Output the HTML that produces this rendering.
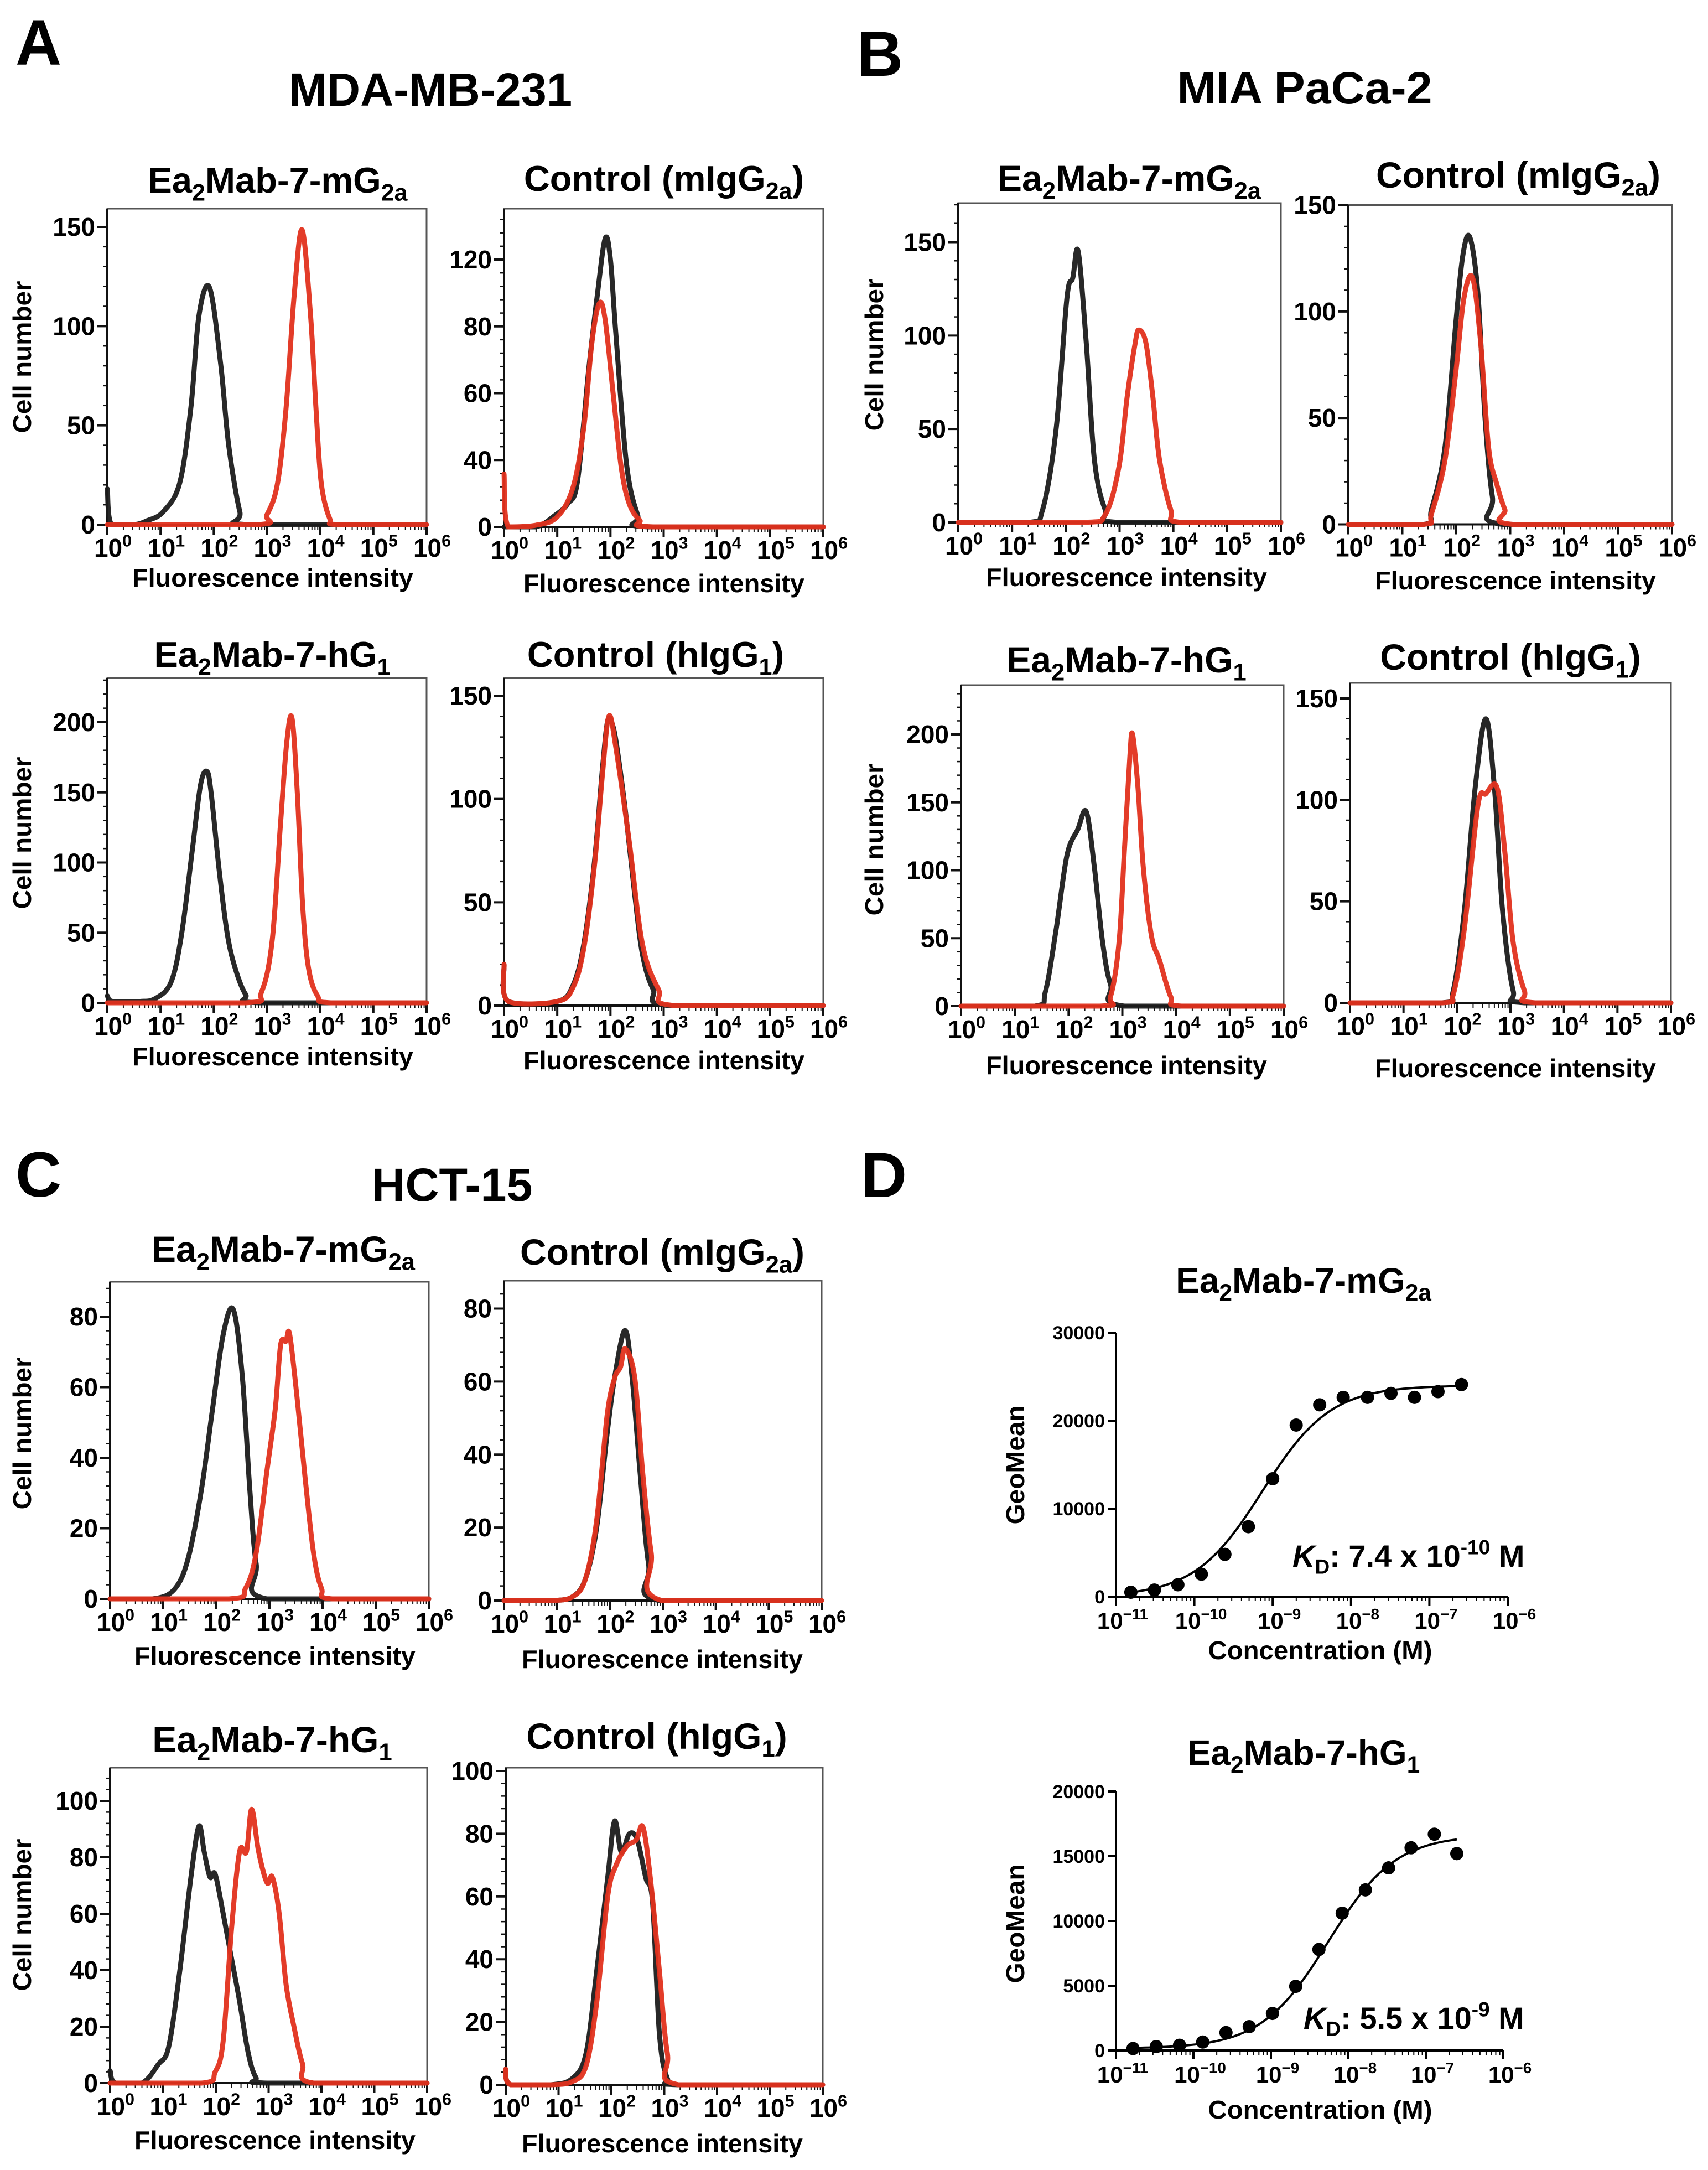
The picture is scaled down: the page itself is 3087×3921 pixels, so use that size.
<!DOCTYPE html>
<html><head><meta charset="utf-8">
<style>
html,body{margin:0;padding:0;background:#fff;}
svg{display:block;font-family:"Liberation Sans",Arial,sans-serif;}
</style></head>
<body>
<svg id="fig" xmlns="http://www.w3.org/2000/svg" width="3087" height="3921" viewBox="0 0 3087 3921">
<rect x="0" y="0" width="3087" height="3921" fill="#fff"/>
<text x="28" y="117" font-size="115" font-weight="bold">A</text>
<text x="1549" y="137" font-size="115" font-weight="bold">B</text>
<text x="28" y="2162" font-size="115" font-weight="bold">C</text>
<text x="1556" y="2163" font-size="115" font-weight="bold">D</text>
<text x="778" y="191" font-size="84" font-weight="bold" text-anchor="middle" textLength="512" lengthAdjust="spacingAndGlyphs">MDA-MB-231</text>
<text x="2358" y="187" font-size="82" font-weight="bold" text-anchor="middle" textLength="461" lengthAdjust="spacingAndGlyphs">MIA PaCa-2</text>
<text x="817" y="2170" font-size="84" font-weight="bold" text-anchor="middle" textLength="291" lengthAdjust="spacingAndGlyphs">HCT-15</text>
</svg>
<script>
// ---------- histogram data (log10 fluorescence, cell count) ----------
const a1BlackLog=[0,0.08,0.5,0.75,1.05,1.36,1.57,1.72,1.92,2.13,2.28,2.49,2.64,6];
const a1BlackCnt=[18,0,0,2,6.5,21,59,105,119.5,81,40,6.5,0,0];
const a1RedLog=[0,2.8,3.0,3.2,3.36,3.51,3.66,3.82,3.92,4.02,4.18,4.35,6];
const a1RedCnt=[0,0,5,21,59,115,148.5,105,59,21,3,0,0];
const a2BlackLog=[0,0.6,0.97,1.2,1.38,1.59,1.75,1.9,2.0,2.1,2.3,2.51,2.7,6];
const a2BlackCnt=[0,0,3.6,7,13.6,46.9,69,86.3,80,58,19,3.6,0,0];
const a2RedLog=[0,0.08,0.6,1.0,1.3,1.5,1.65,1.79,1.9,2.05,2.2,2.35,2.55,2.8,6];
const a2RedCnt=[15.8,0,0.5,3,12,30,55,66.9,62,40,18,7,2,0,0];
const a3BlackLog=[0,0.1,0.6,0.9,1.2,1.4,1.6,1.75,1.87,1.95,2.1,2.25,2.4,2.6,2.85,6];
const a3BlackCnt=[5,1,1,3,15,50,110,155,165,150,95,50,25,6,0,0];
const a3RedLog=[0,2.6,2.9,3.1,3.25,3.37,3.47,3.57,3.67,3.78,3.95,4.2,6];
const a3RedCnt=[0,0,8,45,125,185,203,150,70,25,5,0,0];
const a4BlackLog=[0,0.08,1.0,1.3,1.5,1.7,1.85,1.95,2.05,2.15,2.3,2.45,2.6,2.8,3.1,6];
const a4BlackCnt=[20,2,2,10,30,70,115,138,135,120,90,55,25,8,0,0];
const a4RedLog=[0,0.08,1.0,1.3,1.5,1.7,1.85,1.97,2.1,2.35,2.6,2.9,3.2,6];
const a4RedCnt=[20,2,2,9,28,68,112,140,125,80,30,8,0,0];
const b1BlackLog=[0,1.32,1.57,1.82,2.02,2.13,2.23,2.38,2.53,2.73,2.99,6];
const b1BlackCnt=[0,0,7,50,120,131,145,96,34,7,0,0];
const b1RedLog=[0,2.33,2.73,2.99,3.14,3.29,3.36,3.49,3.62,3.74,3.95,4.15,6];
const b1RedCnt=[0,0,4,30,67,96,103,96,67,34,7,0,0];
const b2BlackLog=[0,1.4,1.54,1.79,1.99,2.12,2.25,2.4,2.53,2.67,2.85,6];
const b2BlackCnt=[0,0,7,36,94,126,135,109,51,13,0,0];
const b2RedLog=[0,1.4,1.54,1.79,1.99,2.14,2.3,2.45,2.6,2.75,2.9,3.05,6];
const b2RedCnt=[0,0,5,30,71,106,116,86,36,19,7,0,0];
const b3BlackLog=[0,1.37,1.57,1.77,1.97,2.17,2.33,2.48,2.63,2.78,3.04,6];
const b3BlackCnt=[0,0,11,57,111,130,143,102,48,16,0,0];
const b3RedLog=[0,2.58,2.78,2.94,3.04,3.14,3.19,3.29,3.39,3.54,3.69,3.9,4.1,6];
const b3RedCnt=[0,0,7,48,116,184,200,161,102,52,34,7,0,0];
const b4BlackLog=[0,1.73,1.93,2.14,2.34,2.54,2.7,2.85,3.05,3.26,6];
const b4BlackCnt=[0,0,6,46,106,140,106,46,6,0,0];
const b4RedLog=[0,1.73,1.93,2.14,2.39,2.54,2.75,2.9,3.05,3.26,3.46,6];
const b4RedCnt=[0,0,4,37,97,103,106,73,30,6,0,0];
const c1BlackLog=[0,0.8,1.21,1.47,1.72,1.93,2.13,2.32,2.49,2.63,2.75,2.95,6];
const c1BlackCnt=[0,0,2.7,11.5,31,54,75,82,63,31,10,0,0];
const c1RedLog=[0,2.24,2.55,2.75,2.95,3.11,3.21,3.31,3.38,3.52,3.67,3.83,3.98,4.18,6];
const c1RedCnt=[0,0,3,13,36,54,72,73,75,57,34.5,13,3,0,0];
const c2BlackLog=[0,0.87,1.29,1.54,1.75,1.95,2.11,2.29,2.42,2.57,2.73,2.93,6];
const c2BlackCnt=[0,0,1,6,20,46,63,74,61,35,10,0,0];
const c2RedLog=[0,0.87,1.29,1.54,1.75,1.95,2.09,2.2,2.29,2.47,2.62,2.78,2.98,6];
const c2RedCnt=[0,0,1,6,22,51,61,64,69,61,35,13,0,0];
const c3BlackLog=[0,0.1,0.6,0.91,1.11,1.32,1.53,1.68,1.78,1.89,1.99,2.14,2.3,2.45,2.61,2.76,2.97,6];
const c3BlackCnt=[4.4,0,0,6.6,13,40,73,91,82,73,74,60,44,29,11,2,0,0];
const c3RedLog=[0,1.73,1.99,2.14,2.3,2.45,2.58,2.68,2.81,2.97,3.07,3.2,3.33,3.48,3.64,3.85,6];
const c3RedCnt=[0,0,4,15,55,82,82,97,82,71,73,60,35,20,7,0,0];
const c4BlackLog=[0,0.1,0.85,1.26,1.52,1.72,1.93,2.06,2.19,2.34,2.49,2.65,2.78,2.91,3.06,3.27,6];
const c4BlackCnt=[5,0,0,2,10,36,66,84,74,80,78,66,58,16,2,0,0];
const c4RedLog=[0,0.1,0.85,1.26,1.52,1.72,1.93,2.09,2.29,2.47,2.6,2.75,2.91,3.06,3.27,6];
const c4RedCnt=[5,0,0,1,6,26,60,70,76,78,82,64,36,10,0,0];
// y tick values / labels
const ticks150=[0,50,100,150];
const labels150=["0","50","100","150"];
const ticks200=[0,50,100,150,200];
const labels200=["0","50","100","150","200"];
const ticksA2=[0,20,40,60,80];
const labelsA2=["0","40","60","80","120"];
const ticks80=[0,20,40,60,80];
const labels80=["0","20","40","60","80"];
const ticks100=[0,20,40,60,80,100];
const labels100=["0","20","40","60","80","100"];
const xDecades=[0,1,2,3,4,5,6];
const xDecadeLabels=["0","1","2","3","4","5","6"];
// ---------- binding curves ----------
const d1LogConc=[-10.81,-10.51,-10.21,-9.91,-9.61,-9.31,-9.0,-8.70,-8.40,-8.10,-7.79,-7.49,-7.19,-6.89,-6.59];
const d1GeoMean=[500,750,1350,2550,4800,7950,13400,19500,21800,22650,22650,23100,22650,23300,24100];
const d1Fit=[24000,7.4e-10,0];
const d2LogConc=[-10.78,-10.48,-10.18,-9.88,-9.58,-9.28,-8.98,-8.68,-8.38,-8.08,-7.78,-7.48,-7.19,-6.89,-6.6];
const d2GeoMean=[150,300,400,650,1380,1840,2860,4950,7800,10600,12400,14100,15650,16700,15200];
const d2Fit=[16500,5.5e-9,150];
const d1YTicks=[0,10000,20000,30000];
const d2YTicks=[0,5000,10000,15000,20000];
const dXDecades=[-11,-10,-9,-8,-7,-6];

const NS='http://www.w3.org/2000/svg';
const svg=document.getElementById('fig');
function mk(tag,attrs,parent){const e=document.createElementNS(NS,tag);for(const k in attrs)e.setAttribute(k,attrs[k]);(parent||svg).appendChild(e);return e;}
function rich(parent,x,y,parts,size,anchor){
  const t=mk('text',{x:x,y:y,'font-size':size,'text-anchor':anchor||'middle','font-weight':'bold'},parent);
  let shift=0;
  parts.forEach(p=>{
    const ts=mk('tspan',{},t);
    const target=p[1]==='sub'?size*0.22:(p[1]==='sup'?-size*0.4:0);
    ts.setAttribute('dy',target-shift);shift=target;
    if(p[1]==='sub'||p[1]==='sup')ts.setAttribute('font-size',size*0.66);
    if(p[1]==='it')ts.setAttribute('font-style','italic');
    ts.textContent=p[0];
  });
  return t;
}
function smoothPath(pts,maxY){
  const cl=v=>Math.min(v,maxY);
  let d='M'+pts[0][0].toFixed(1)+','+pts[0][1].toFixed(1);
  for(let i=0;i<pts.length-1;i++){
    const p0=pts[Math.max(0,i-1)],p1=pts[i],p2=pts[i+1],p3=pts[Math.min(pts.length-1,i+2)];
    const c1=[p1[0]+(p2[0]-p0[0])/6,cl(p1[1]+(p2[1]-p0[1])/6)];
    const c2=[p2[0]-(p3[0]-p1[0])/6,cl(p2[1]-(p3[1]-p1[1])/6)];
    d+=' C'+c1[0].toFixed(1)+','+c1[1].toFixed(1)+' '+c2[0].toFixed(1)+','+c2[1].toFixed(1)+' '+p2[0].toFixed(1)+','+p2[1].toFixed(1);
  }
  return d;
}
function histPanel(cfg){
  const g=mk('g',{});
  
  
  const unit=(cfg.y0-cfg.refPx)/cfg.refVal;
  const X=l=>cfg.x0+(cfg.x1-cfg.x0)*l/6;
  const Y=v=>cfg.y0-v*unit;
  const frame=mk('rect',{x:cfg.x0,y:cfg.top,width:cfg.x1-cfg.x0,height:cfg.y0-cfg.top,fill:'none',stroke:'#555','stroke-width':3},g);
  
  
  mk('line',{x1:cfg.x0,y1:cfg.top,x2:cfg.x0,y2:cfg.y0,stroke:'#111','stroke-width':4},g);
  mk('line',{x1:cfg.x0,y1:cfg.y0,x2:cfg.x1,y2:cfg.y0,stroke:'#111','stroke-width':4},g);
  const yt=cfg.yTicks, step=yt[1]-yt[0];
  const maxV=(cfg.y0-cfg.top)/unit;
  for(let v=0;v<=maxV+0.01;v+=step/5){
    const y=Y(v);
    mk('line',{x1:cfg.x0-8,y1:y,x2:cfg.x0,y2:y,stroke:'#111','stroke-width':2.5},g);
  }
  yt.forEach((v,i)=>{
    const y=Y(v);
    mk('line',{x1:cfg.x0-18,y1:y,x2:cfg.x0,y2:y,stroke:'#111','stroke-width':4},g);
    const t=mk('text',{x:cfg.x0-22,y:y+16,'font-size':cfg.tick,'font-weight':'bold','text-anchor':'end'},g);
    
    
    t.textContent=cfg.yLabels[i];
  });
  xDecades.forEach((d,i)=>{
    const x=X(d);
    mk('line',{x1:x,y1:cfg.y0,x2:x,y2:cfg.y0+18,stroke:'#111','stroke-width':4},g);
    if(d<6){for(let m=2;m<10;m++){const xm=X(d+Math.log10(m));mk('line',{x1:xm,y1:cfg.y0,x2:xm,y2:cfg.y0+9,stroke:'#111','stroke-width':2},g);}}
    const t=rich(g,x+10,cfg.y0+58,[['10',''],[xDecadeLabels[i],'sup']],cfg.tick,'middle');
    
    
  });
  cfg.series.forEach(s=>{
    const pts=s.log.map((l,i)=>[X(l),Y(s.cnt[i])]);
    const p=mk('path',{d:smoothPath(pts,cfg.y0),fill:'none',stroke:s.color,'stroke-width':9,'stroke-linejoin':'round','stroke-linecap':'round','stroke-opacity':0.95},g);
    
    
  });
  const tt=rich(g,cfg.tx,cfg.ty,cfg.title,cfg.tsize||58,'middle');
  
  
  const xl=mk('text',{x:cfg.lx,y:cfg.ly,'font-size':46,'font-weight':'bold','text-anchor':'middle',textLength:cfg.lw||508,lengthAdjust:'spacingAndGlyphs'},g);
  
  
  xl.textContent='Fluorescence intensity';
  if(cfg.ylx){
    const yl=mk('text',{x:0,y:0,'font-size':46,'font-weight':'bold','text-anchor':'middle',textLength:275,lengthAdjust:'spacingAndGlyphs',transform:'translate('+(cfg.ylx+16)+','+cfg.yly+') rotate(-90)'},g);
    
    
    yl.textContent='Cell number';
  }
}
const RED='#e2311d', BLK='#1c1c1c';
const mG=[['Ea',''],['2','sub'],['Mab-7-mG',''],['2a','sub']];
const hG=[['Ea',''],['2','sub'],['Mab-7-hG',''],['1','sub']];
const cM=[['Control (mIgG',''],['2a','sub'],[')','']];
const cH=[['Control (hIgG',''],['1','sub'],[')','']];
function ser(bl,bc,rl,rc){return [{log:bl,cnt:bc,color:BLK,name:'black-histogram'},{log:rl,cnt:rc,color:RED,name:'red-histogram'}];}
histPanel({name:'mda-mb-231-ea2mab-mg2a',x0:194,x1:771,top:377,y0:948,refVal:150,refPx:410,yTicks:ticks150,yLabels:labels150,tick:46,series:ser(a1BlackLog,a1BlackCnt,a1RedLog,a1RedCnt),title:mG,tx:502,ty:348,tsize:65,lx:493,ly:1060,ylx:40,yly:645});
histPanel({name:'mda-mb-231-control-migg2a',x0:911,x1:1488,top:377,y0:952,refVal:80,refPx:469,yTicks:ticksA2,yLabels:labelsA2,tick:46,series:ser(a2BlackLog,a2BlackCnt,a2RedLog,a2RedCnt),title:cM,tx:1200,ty:345,tsize:65,lx:1200,ly:1070});
histPanel({name:'mda-mb-231-ea2mab-hg1',x0:194,x1:771,top:1225,y0:1812,refVal:200,refPx:1305,yTicks:ticks200,yLabels:labels200,tick:46,series:ser(a3BlackLog,a3BlackCnt,a3RedLog,a3RedCnt),title:hG,tx:492,ty:1205,tsize:65,lx:493,ly:1925,ylx:40,yly:1505});
histPanel({name:'mda-mb-231-control-higg1',x0:911,x1:1488,top:1225,y0:1817,refVal:150,refPx:1257,yTicks:ticks150,yLabels:labels150,tick:46,series:ser(a4BlackLog,a4BlackCnt,a4RedLog,a4RedCnt),title:cH,tx:1185,ty:1205,tsize:65,lx:1200,ly:1932});
histPanel({name:'mia-paca-2-ea2mab-mg2a',x0:1732,x1:2315,top:367,y0:944,refVal:150,refPx:437.5,yTicks:ticks150,yLabels:labels150,tick:46,series:ser(b1BlackLog,b1BlackCnt,b1RedLog,b1RedCnt),title:mG,tx:2041,ty:345,tsize:66,lx:2036,ly:1059,ylx:1580,yly:641});
histPanel({name:'mia-paca-2-control-migg2a',x0:2437,x1:3022,top:370.5,y0:947.5,refVal:150,refPx:370.5,yTicks:ticks150,yLabels:labels150,tick:46,series:ser(b2BlackLog,b2BlackCnt,b2RedLog,b2RedCnt),title:cM,tx:2744,ty:339,tsize:66,lx:2739,ly:1065});
histPanel({name:'mia-paca-2-ea2mab-hg1',x0:1737,x1:2320,top:1238,y0:1818,refVal:200,refPx:1327,yTicks:ticks200,yLabels:labels200,tick:46,series:ser(b3BlackLog,b3BlackCnt,b3RedLog,b3RedCnt),title:hG,tx:2036,ty:1215,tsize:66,lx:2036,ly:1941,ylx:1580,yly:1517});
histPanel({name:'mia-paca-2-control-higg1',x0:2440,x1:3020,top:1234,y0:1812,refVal:150,refPx:1262,yTicks:ticks150,yLabels:labels150,tick:46,series:ser(b4BlackLog,b4BlackCnt,b4RedLog,b4RedCnt),title:cH,tx:2730,ty:1210,tsize:66,lx:2739,ly:1946});
histPanel({name:'hct-15-ea2mab-mg2a',x0:199,x1:775,top:2316,y0:2889,refVal:80,refPx:2379,yTicks:ticks80,yLabels:labels80,tick:46,series:ser(c1BlackLog,c1BlackCnt,c1RedLog,c1RedCnt),title:mG,tx:512,ty:2280,tsize:66,lx:497,ly:3008,ylx:40,yly:2590});
histPanel({name:'hct-15-control-migg2a',x0:911,x1:1485,top:2314,y0:2892,refVal:80,refPx:2364.5,yTicks:ticks80,yLabels:labels80,tick:46,series:ser(c2BlackLog,c2BlackCnt,c2RedLog,c2RedCnt),title:cM,tx:1197,ty:2285,tsize:66,lx:1197,ly:3014});
histPanel({name:'hct-15-ea2mab-hg1',x0:199,x1:772,top:3194,y0:3764,refVal:100,refPx:3254,yTicks:ticks100,yLabels:labels100,tick:46,series:ser(c3BlackLog,c3BlackCnt,c3RedLog,c3RedCnt),title:hG,tx:492,ty:3166,tsize:66,lx:497,ly:3883,ylx:40,yly:3460});
histPanel({name:'hct-15-control-higg1',x0:914,x1:1487,top:3194,y0:3767,refVal:100,refPx:3200,yTicks:ticks100,yLabels:labels100,tick:46,series:ser(c4BlackLog,c4BlackCnt,c4RedLog,c4RedCnt),title:cH,tx:1187,ty:3160,tsize:66,lx:1197,ly:3889});

function bindPanel(cfg){
  const g=mk('g',{});
  
  
  const X=l=>cfg.xl+(cfg.xr-cfg.xl)*(l+11)/5;
  const unit=(cfg.y0-cfg.refPx)/cfg.refVal;
  const Y=v=>cfg.y0-v*unit;
  const top=Y(cfg.yTicks[cfg.yTicks.length-1]);
  mk('line',{x1:cfg.xl,y1:top,x2:cfg.xl,y2:cfg.y0,stroke:'#000','stroke-width':4},g);
  mk('line',{x1:cfg.xl,y1:cfg.y0,x2:cfg.xr,y2:cfg.y0,stroke:'#000','stroke-width':4},g);
  cfg.yTicks.forEach(v=>{
    const y=Y(v);
    mk('line',{x1:cfg.xl-14,y1:y,x2:cfg.xl,y2:y,stroke:'#000','stroke-width':4},g);
    const t=mk('text',{x:cfg.xl-20,y:y+12,'font-size':34,'font-weight':'bold','text-anchor':'end'},g);
    
    
    t.textContent=String(v);
  });
  dXDecades.forEach(d=>{
    const x=X(d);
    mk('line',{x1:x,y1:cfg.y0,x2:x,y2:cfg.y0+16,stroke:'#000','stroke-width':4},g);
    if(d<-6){for(let m=2;m<10;m++){const xm=X(d+Math.log10(m));mk('line',{x1:xm,y1:cfg.y0,x2:xm,y2:cfg.y0+8,stroke:'#000','stroke-width':2},g);}}
    const t=rich(g,x+12,cfg.y0+58,[['10',''],['\u2212'+(-d),'sup']],42,'middle');
    
    
  });
  const fit=cfg.fit, pts=[];
  const l0=cfg.lc[0], l1=cfg.lc[cfg.lc.length-1];
  for(let i=0;i<=80;i++){const l=l0+(l1-l0)*i/80;const c=Math.pow(10,l);pts.push([X(l),Y(fit[2]+fit[0]*c/(fit[1]+c))]);}
  const fp=mk('path',{d:'M'+pts.map(p=>p[0].toFixed(1)+','+p[1].toFixed(1)).join(' L'),fill:'none',stroke:'#000','stroke-width':4},g);
  
  
  cfg.lc.forEach((l,i)=>{
    const c=mk('circle',{cx:X(l),cy:Y(cfg.gm[i]),r:12,fill:'#000'},g);
    
    
  });
  const tt=rich(g,cfg.tx,cfg.ty,cfg.title,64,'middle');
  
  
  const kd=rich(g,cfg.kx,cfg.ky,[['K','it'],['D','sub'],[': '+cfg.kd+' x 10',''],[cfg.kexp,'sup'],[' M','']],56,'start');
  
  
  const xl=mk('text',{x:cfg.lx,y:cfg.ly,'font-size':46,'font-weight':'bold','text-anchor':'middle',textLength:405,lengthAdjust:'spacingAndGlyphs'},g);
  
  
  xl.textContent='Concentration (M)';
  const yl=mk('text',{x:0,y:0,'font-size':46,'font-weight':'bold','text-anchor':'middle',textLength:215,lengthAdjust:'spacingAndGlyphs',transform:'translate(1851,'+cfg.yly+') rotate(-90)'},g);
  
  
  yl.textContent='GeoMean';
}
bindPanel({name:'binding-ea2mab-mg2a',xl:2017,xr:2725,y0:2885,refVal:30000,refPx:2408,yTicks:d1YTicks,lc:d1LogConc,gm:d1GeoMean,fit:d1Fit,title:mG,tx:2356,ty:2336,kx:2336,ky:2831,kd:'7.4',kexp:'-10',lx:2386,ly:2998,yly:2647});
bindPanel({name:'binding-ea2mab-hg1',xl:2017,xr:2717,y0:3705,refVal:20000,refPx:3237,yTicks:d2YTicks,lc:d2LogConc,gm:d2GeoMean,fit:d2Fit,title:hG,tx:2356,ty:3189,kx:2356,ky:3666,kd:'5.5',kexp:'-9',lx:2386,ly:3828,yly:3476});
</script>
</body></html>
